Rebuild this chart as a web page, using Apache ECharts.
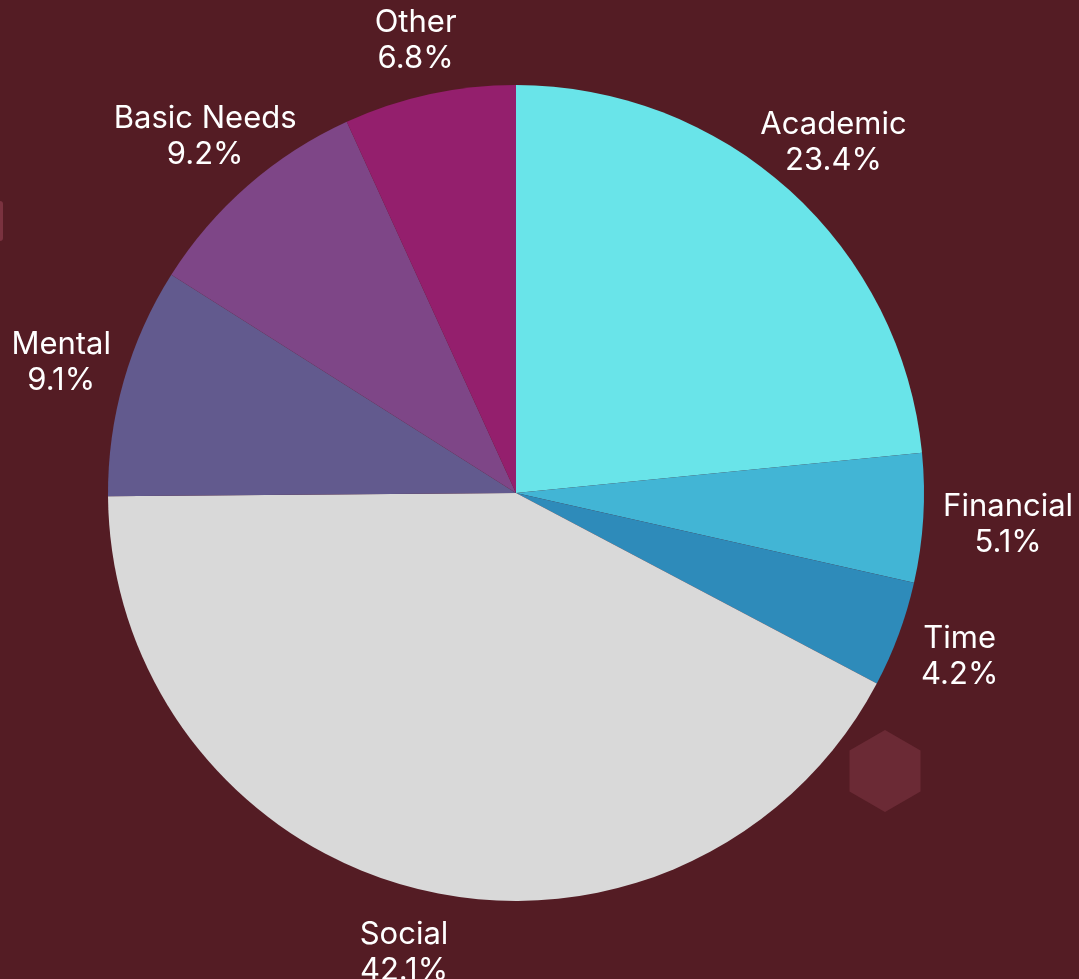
<!DOCTYPE html>
<html>
<head>
<meta charset="utf-8">
<script src="https://cdn.jsdelivr.net/npm/echarts@6/dist/echarts.min.js"></script>
<style>
  html, body { margin: 0; padding: 0; background: #541c24; }
  #chart { width: 1079px; height: 979px; }
</style>
</head>
<body>
<div id="chart"></div>
<script>
const categories = ['Academic', 'Financial', 'Time', 'Social', 'Mental', 'Basic Needs', 'Other']
const shares = [23.4, 5.1, 4.2, 42.1, 9.1, 9.2, 6.8]
const sliceColors = ['#69e4e9', '#42b5d5', '#2e8bba', '#d9d9d9', '#625a8e', '#7e4687', '#941f6d']

const chart = echarts.init(document.getElementById('chart'))

const pieData = categories.map((name, i) => ({
  name,
  value: shares[i],
  itemStyle: { color: sliceColors[i] },
}))

// pointy-top hexagon used as a background decoration
function hexPoints(cx, cy, r) {
  const pts = []
  for (let k = 0; k < 6; k++) {
    const a = (Math.PI / 3) * k - Math.PI / 2
    pts.push([cx + r * Math.cos(a), cy + r * Math.sin(a)])
  }
  return pts
}

// small nudges for labels that sit off the common radius
const labelNudge = { Financial: { dx: 20, dy: 3 }, Other: { dy: 10 } }

chart.setOption({
  backgroundColor: '#541c24',
  animation: false,
  graphic: [
    {
      type: 'polygon',
      shape: { points: hexPoints(885, 771, 41) },
      style: { fill: '#6b2a35' },
      silent: true,
    },
    {
      type: 'rect',
      shape: { x: -20, y: 201, width: 23, height: 40, r: 3 },
      style: { fill: '#7a323f' },
      silent: true,
    },
  ],
  series: [
    {
      type: 'pie',
      center: [516, 493],
      radius: 408,
      startAngle: 90,
      clockwise: true,
      sort: null,
      silent: true,
      label: { show: false },
      labelLine: { show: false },
      data: pieData,
    },
    {
      // invisible ring that carries the centred labels outside the pie
      type: 'pie',
      center: [516, 493],
      radius: [440, 500],
      startAngle: 90,
      clockwise: true,
      silent: true,
      itemStyle: { color: 'rgba(0,0,0,0)' },
      label: {
        show: true,
        position: 'inside',
        color: '#ffffff',
        fontFamily: 'Inter',
        fontSize: 31,
        lineHeight: 36,
        align: 'center',
        formatter: (p) => `${p.name}\n${p.value.toFixed(1)}%`,
      },
      labelLine: { show: false },
      labelLayout: (params) => labelNudge[categories[params.dataIndex]] || {},
      data: categories.map((name, i) => ({ name, value: shares[i] })),
    },
  ],
})
</script>
</body>
</html>
